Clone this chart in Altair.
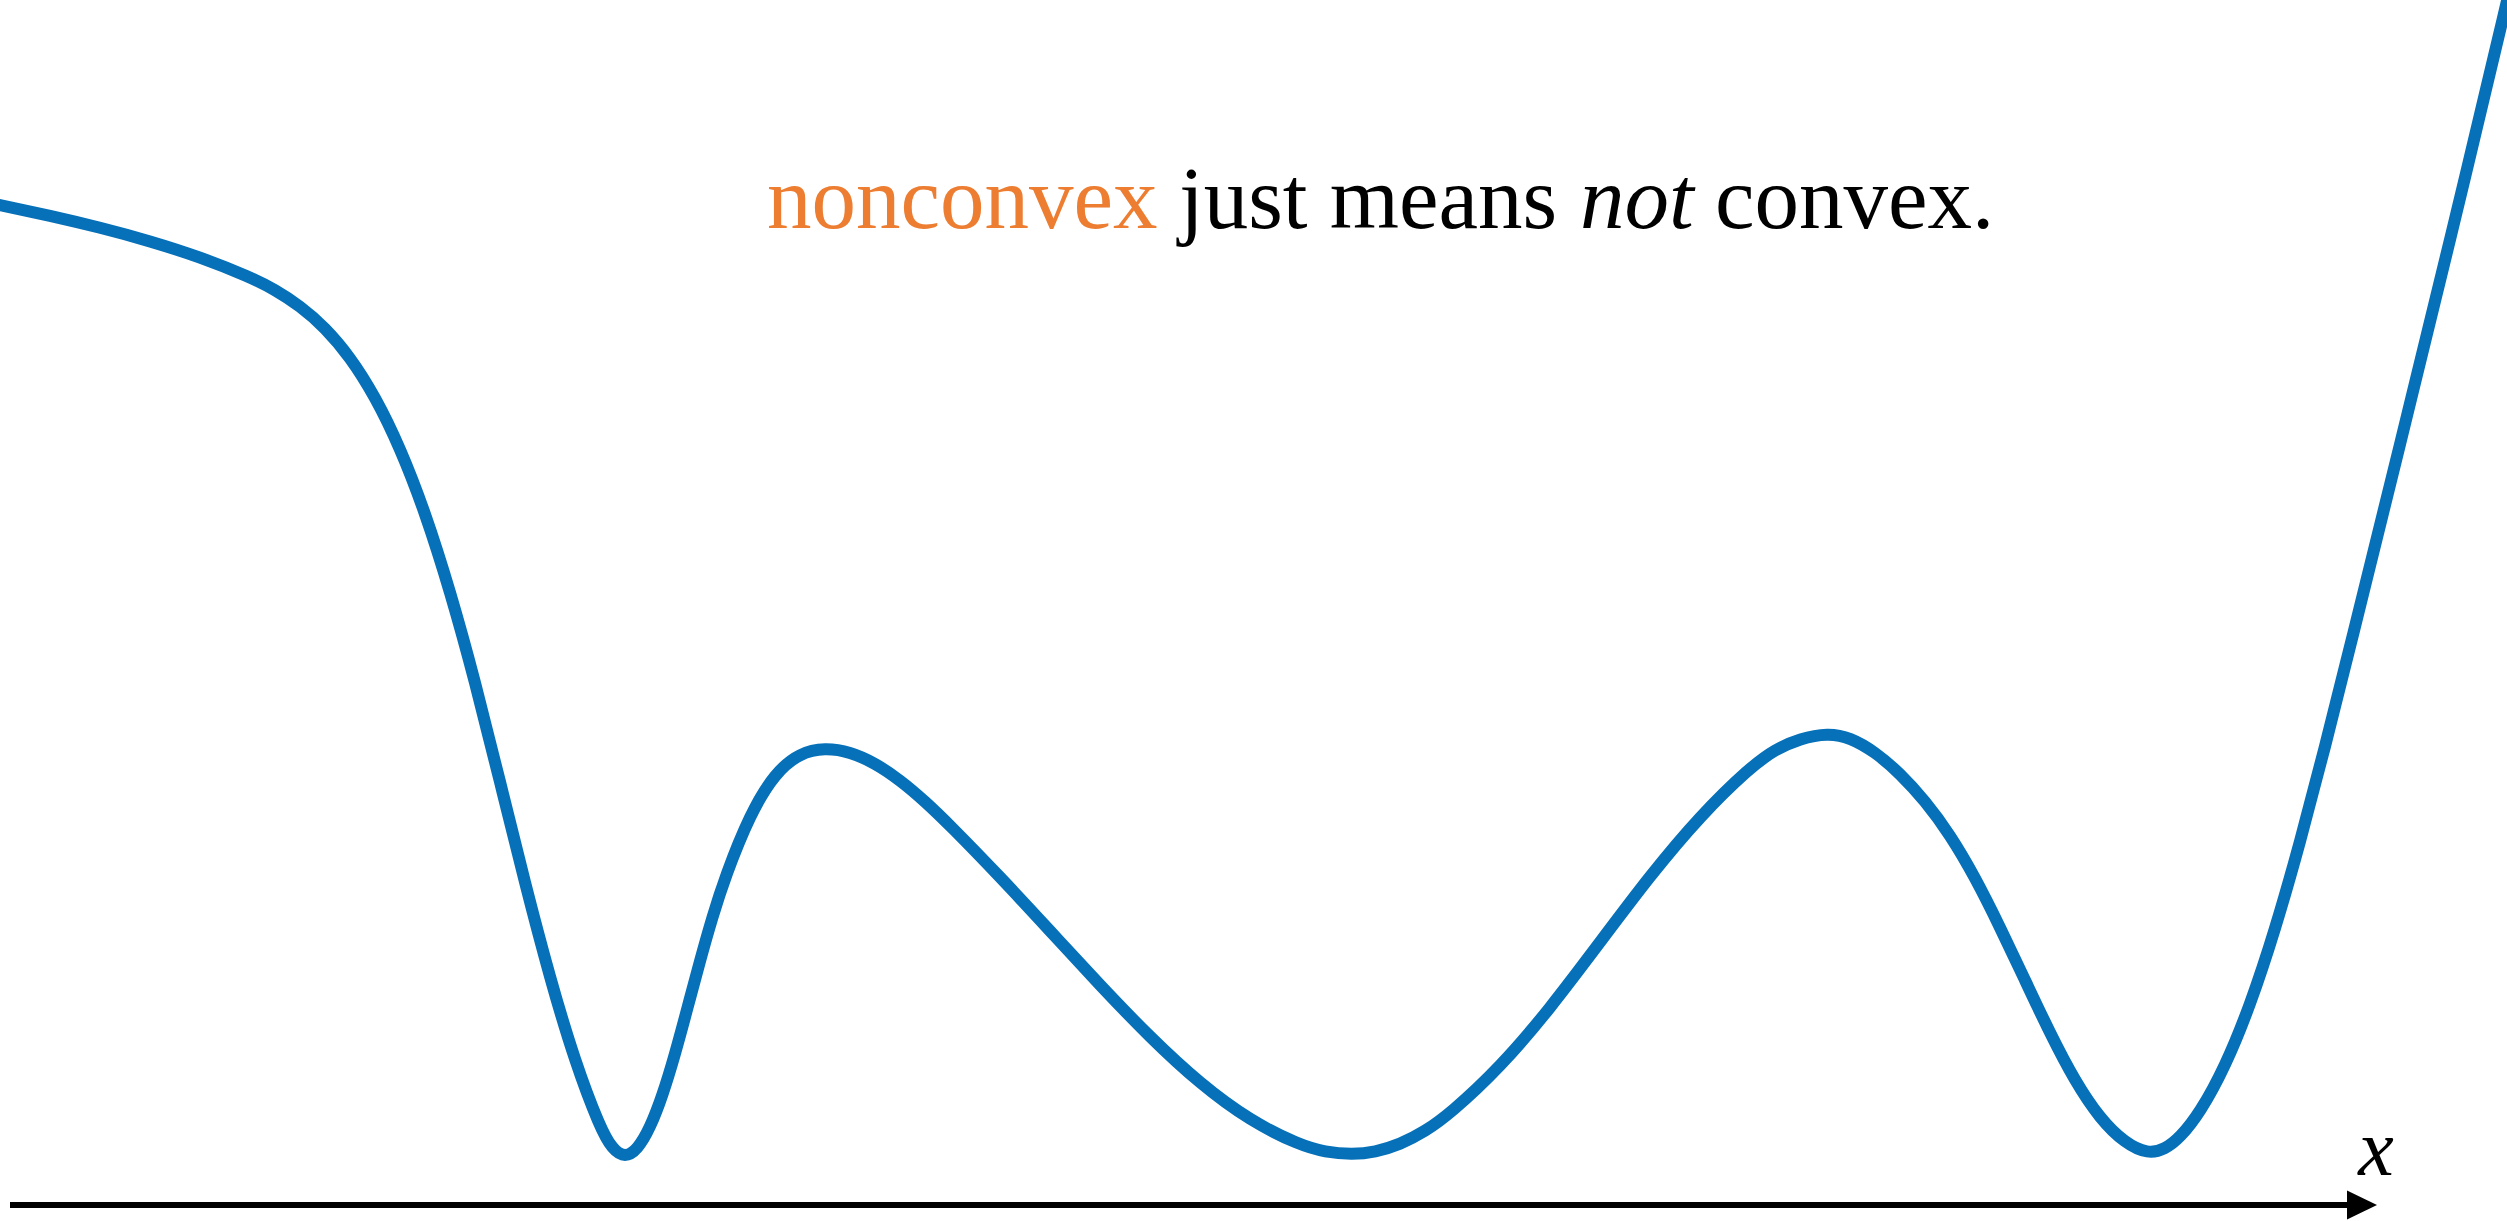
import altair as alt
import pandas as pd

# Sampled points of the nonconvex function f(x); the first and last samples lie
# just outside the visible x-range so the curve runs off the edges.
curve_x = [-0.2, 0.0, 0.2, 0.4, 0.6, 0.8, 1.0, 1.1, 1.2, 1.3, 1.4, 1.5, 1.6, 1.7, 1.8,
           1.9, 2.0, 2.1, 2.2, 2.3, 2.4, 2.45, 2.5, 2.55, 2.6, 2.65, 2.7, 2.75, 2.8,
           2.85, 2.9, 3.0, 3.1, 3.2, 3.3, 3.4, 3.5, 3.6, 3.7, 3.8, 4.0, 4.2, 4.4,
           4.6, 4.8, 5.0, 5.2, 5.3, 5.408, 5.5, 5.6, 5.7, 5.8, 6.0, 6.2, 6.4, 6.6,
           6.8, 7.0, 7.1, 7.2, 7.312, 7.4, 7.5, 7.6, 7.7, 7.8, 7.9, 8.0, 8.1, 8.2,
           8.3, 8.4, 8.5, 8.592, 8.66, 8.72, 8.8, 8.9, 9.0, 9.1, 9.2, 9.3, 9.4,
           9.6, 9.8, 10.028, 10.16]
curve_y = [10.105, 10.0, 9.893, 9.775, 9.64, 9.48, 9.28, 9.153, 8.991, 8.776, 8.482,
           8.088, 7.576, 6.932, 6.145, 5.24, 4.233, 3.218, 2.268, 1.431, 0.774, 0.555,
           0.474, 0.555, 0.768, 1.093, 1.505, 1.971, 2.443, 2.884, 3.278, 3.91, 4.322,
           4.522, 4.572, 4.532, 4.42, 4.25, 4.037, 3.797, 3.282, 2.742, 2.197, 1.677,
           1.212, 0.842, 0.597, 0.53, 0.505, 0.528, 0.605, 0.735, 0.913, 1.375, 1.963,
           2.628, 3.293, 3.89, 4.375, 4.555, 4.665, 4.72, 4.676, 4.532, 4.316, 4.043,
           3.705, 3.28, 2.78, 2.249, 1.718, 1.237, 0.862, 0.618, 0.51, 0.557, 0.673,
           0.923, 1.379, 1.991, 2.748, 3.623, 4.579, 5.579, 7.604, 9.641, 12.035, 13.45]

# Heading, split into styled runs
title_text = ["nonconvex", "just means", "not", "convex."]
title_x = [3.068, 4.716, 6.32, 6.86]
title_y = 9.77
title_color = ["#ED7D31", "black", "black", "black"]
title_style = ["normal", "normal", "italic", "normal"]

# Horizontal x-axis arrow
axis_start, axis_end, arrow_tip_x = 0.04, 9.40, 9.448
axis_label = "x"
axis_label_x, axis_label_y = 9.504, 0.30

W, H = 2507, 1221
BLUE = "#0670B8"
SERIF = "Liberation Serif"

xs = alt.Scale(domain=[0, 10.028], nice=False, zero=False)
ys = alt.Scale(domain=[-0.16, 12.05], nice=False, zero=False)

curve = pd.DataFrame({"x": curve_x, "f": curve_y})
line = alt.Chart(curve).mark_line(
    color=BLUE, strokeWidth=12, interpolate="basis", clip=True,
    strokeCap="round", strokeJoin="round"
).encode(
    x=alt.X("x:Q", scale=xs, axis=None),
    y=alt.Y("f:Q", scale=ys, axis=None),
)

axis_df = pd.DataFrame({"x0": [axis_start], "x1": [axis_end], "y": [0.0]})
axis_rule = alt.Chart(axis_df).mark_rule(color="black", strokeWidth=6, strokeCap="butt").encode(
    x=alt.X("x0:Q", scale=xs, axis=None),
    x2="x1:Q",
    y=alt.Y("y:Q", scale=ys, axis=None),
)

arrow_df = pd.DataFrame({"x": [arrow_tip_x], "y": [0.0]})
arrow = alt.Chart(arrow_df).mark_point(
    shape="M -1 -0.97 L 1 0 L -1 0.97 Z", size=900, filled=True,
    fill="black", strokeWidth=0, opacity=1
).encode(
    x=alt.X("x:Q", scale=xs, axis=None),
    y=alt.Y("y:Q", scale=ys, axis=None),
)

label_df = pd.DataFrame({"x": [axis_label_x], "y": [axis_label_y], "t": [axis_label]})
x_label = alt.Chart(label_df).mark_text(
    font=SERIF, fontSize=80, fontStyle="italic", align="center",
    baseline="alphabetic", color="black"
).encode(
    x=alt.X("x:Q", scale=xs, axis=None),
    y=alt.Y("y:Q", scale=ys, axis=None),
    text="t:N",
)

title_layers = []
for txt, tx, col, sty in zip(title_text, title_x, title_color, title_style):
    df = pd.DataFrame({"x": [tx], "y": [title_y], "t": [txt]})
    title_layers.append(
        alt.Chart(df).mark_text(
            font=SERIF, fontSize=89, fontStyle=sty, align="left",
            baseline="alphabetic", color=col
        ).encode(
            x=alt.X("x:Q", scale=xs, axis=None),
            y=alt.Y("y:Q", scale=ys, axis=None),
            text="t:N",
        )
    )

chart = alt.layer(line, axis_rule, arrow, x_label, *title_layers).properties(
    width=W, height=H, padding=0, background="white",
    autosize=alt.AutoSizeParams(type="none"),
).configure_view(strokeWidth=0)

chart.save("out.html", embed_options={"renderer": "svg", "actions": False})
